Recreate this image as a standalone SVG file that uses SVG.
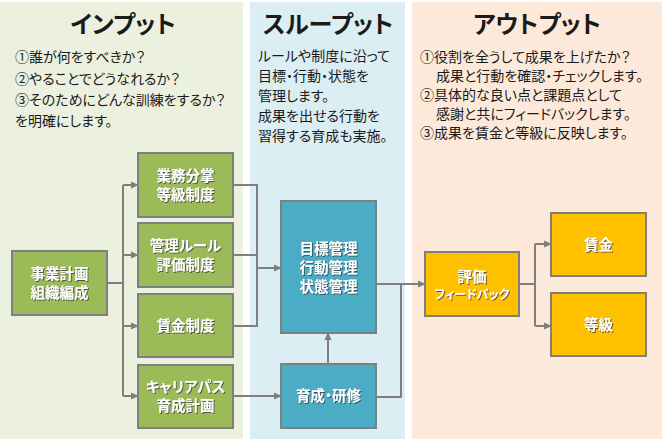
<svg xmlns="http://www.w3.org/2000/svg" width="662" height="439" viewBox="0 0 662 439">
<defs>
<style>
text{font-feature-settings:"palt" 1}
.title{font-family:"Noto Sans CJK JP","Noto Sans",sans-serif;font-weight:bold;font-size:24px;fill:#1a1a1a;text-anchor:middle}
.body{font-family:"Noto Sans CJK JP","Noto Sans",sans-serif;font-size:14px;fill:#1a1a1a}
.lbl{font-family:"Noto Sans CJK JP","Noto Sans",sans-serif;font-weight:bold;font-size:14.5px;fill:#ffffff;text-anchor:middle;filter:url(#sh)}
.g{fill:#9BBB59;stroke:#7F7F7F;stroke-width:2}
.b{fill:#4BACC6;stroke:#7F7F7F;stroke-width:2}
.o{fill:#FFC000;stroke:#7F7F7F;stroke-width:2}
.c{fill:none;stroke:#7F7F7F;stroke-width:2}
</style>
<filter id="sh" x="-10%" y="-20%" width="130%" height="150%">
<feDropShadow dx="1" dy="1" stdDeviation="0.6" flood-color="#404040" flood-opacity="0.8"/>
</filter>
<marker id="ar" markerWidth="8" markerHeight="8" refX="7" refY="4" orient="auto" markerUnits="userSpaceOnUse">
<path d="M0,0.5 L8,4 L0,7.5 Z" fill="#7F7F7F"/>
</marker>
</defs>
<g id="panels">
<rect x="0" y="2" width="243" height="437" fill="#EBF1DE"/>
<rect x="250" y="2" width="155" height="437" fill="#DAEEF3"/>
<rect x="412" y="2" width="250" height="437" fill="#FDE9D9"/>
</g>
<g id="input-text">
<text class="title" x="123" y="33">インプット</text>
<text class="body" x="15" y="62">①誰が何をすべきか？</text>
<text class="body" x="15" y="84">②やることでどうなれるか？</text>
<text class="body" x="15" y="105">③そのためにどんな訓練をするか？</text>
<text class="body" x="15" y="126">を明確にします。</text>
</g>
<g id="through-text">
<text class="title" x="328" y="33">スループット</text>
<text class="body" x="258" y="61">ルールや制度に沿って</text>
<text class="body" x="258" y="81">目標・行動・状態を</text>
<text class="body" x="258" y="101">管理します。</text>
<text class="body" x="258" y="121">成果を出せる行動を</text>
<text class="body" x="258" y="141">習得する育成も実施。</text>
</g>
<g id="output-text">
<text class="title" x="537" y="33">アウトプット</text>
<text class="body" x="420" y="62">①役割を全うして成果を上げたか？</text>
<text class="body" x="436" y="81">成果と行動を確認・チェックします。</text>
<text class="body" x="420" y="100">②具体的な良い点と課題点として</text>
<text class="body" x="436" y="119">感謝と共にフィードバックします。</text>
<text class="body" x="420" y="138">③成果を賃金と等級に反映します。</text>
</g>
<g id="connectors">
<path class="c" d="M107,283 H123"/>
<path class="c" d="M123,185 V396"/>
<path class="c" d="M123,185 H138" marker-end="url(#ar)"/>
<path class="c" d="M123,255 H138" marker-end="url(#ar)"/>
<path class="c" d="M123,326 H138" marker-end="url(#ar)"/>
<path class="c" d="M123,396 H138" marker-end="url(#ar)"/>
<path class="c" d="M233,185 H257 V326 H233"/>
<path class="c" d="M233,255 H257"/>
<path class="c" d="M257,268 H281" marker-end="url(#ar)"/>
<path class="c" d="M233,396 H281" marker-end="url(#ar)"/>
<path class="c" d="M328,364 V333" marker-end="url(#ar)"/>
<path class="c" d="M376,397 H401 V284"/>
<path class="c" d="M376,284 H425" marker-end="url(#ar)"/>
<path class="c" d="M519,284 H535"/>
<path class="c" d="M535,244 V326"/>
<path class="c" d="M535,244 H551" marker-end="url(#ar)"/>
<path class="c" d="M535,326 H551" marker-end="url(#ar)"/>
</g>
<g id="n-jigyo">
<rect class="g" x="12" y="251" width="95" height="64"/>
<text class="lbl" x="59.5" y="279">事業計画</text>
<text class="lbl" x="59.5" y="298">組織編成</text>
</g>
<g id="n-gyomu">
<rect class="g" x="138" y="153" width="95" height="64"/>
<text class="lbl" x="185.5" y="181">業務分掌</text>
<text class="lbl" x="185.5" y="200">等級制度</text>
</g>
<g id="n-kanri">
<rect class="g" x="138" y="223" width="95" height="64"/>
<text class="lbl" x="185.5" y="251">管理ルール</text>
<text class="lbl" x="185.5" y="270">評価制度</text>
</g>
<g id="n-chingin-seido">
<rect class="g" x="138" y="294" width="95" height="63"/>
<text class="lbl" x="185.5" y="331">賃金制度</text>
</g>
<g id="n-career">
<rect class="g" x="138" y="365" width="95" height="63"/>
<text class="lbl" x="185.5" y="392">キャリアパス</text>
<text class="lbl" x="185.5" y="411">育成計画</text>
</g>
<g id="n-mokuhyo">
<rect class="b" x="281" y="201" width="95" height="132"/>
<text class="lbl" x="328.5" y="254">目標管理</text>
<text class="lbl" x="328.5" y="273">行動管理</text>
<text class="lbl" x="328.5" y="292">状態管理</text>
</g>
<g id="n-ikusei">
<rect class="b" x="281" y="364" width="95" height="64"/>
<text class="lbl" x="328.5" y="401">育成・研修</text>
</g>
<g id="n-hyoka">
<rect class="o" x="425" y="252" width="94" height="64"/>
<text class="lbl" x="472" y="282">評価</text>
<text class="lbl" x="472" y="299" style="font-size:12px">フィードバック</text>
</g>
<g id="n-chingin">
<rect class="o" x="551" y="213" width="95" height="63"/>
<text class="lbl" x="598.5" y="250">賃金</text>
</g>
<g id="n-tokyu">
<rect class="o" x="551" y="293" width="95" height="63"/>
<text class="lbl" x="598.5" y="330">等級</text>
</g>
</svg>
